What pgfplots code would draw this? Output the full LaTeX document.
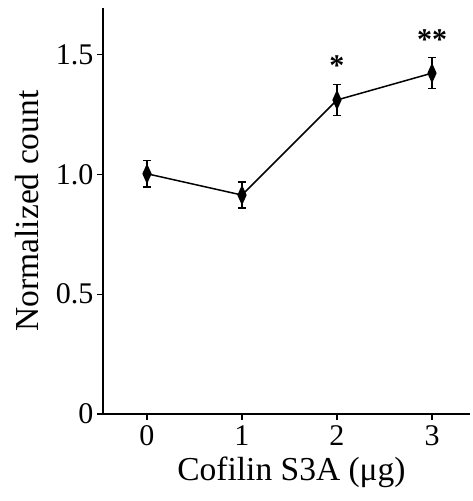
\documentclass[border=0pt]{standalone}
\usepackage{fontspec}
\setmainfont{Liberation Serif}
\usepackage{pgfplots}
\pgfplotsset{compat=1.18}

\newcommand{\tickfont}{\fontsize{30}{36}\selectfont}
\newcommand{\labfont}{\fontsize{33.5}{40}\selectfont}

\begin{document}
\begin{tikzpicture}
	\begin{axis}[
		scale only axis,
		width=367pt,
		height=406pt,
		axis x line*=bottom,
		axis y line*=left,
		axis line style={line width=1.6pt},
		xmin=-0.463, xmax=3.4,
		ymin=0, ymax=1.695,
		xtick={0,1,2,3},
		ytick={0,0.5,1,1.5},
		yticklabels={0,0.5,1.0,1.5},
		tick align=outside,
		major tick length=6pt,
		tick style={line width=1.4pt, black},
		/pgf/number format/assume math mode=true,
		tick label style={font=\tickfont},
		xticklabel style={yshift=-2pt},
		label style={font=\labfont},
		xlabel={Cofilin S3A (μg)},
		ylabel={Normalized count},
		xlabel style={xshift=5pt},
		xlabel shift=4pt,
		ylabel shift=10pt,
		clip=false,
	]
		% mean values with error bars
		\addplot[black, line width=1.5pt, mark=diamond*,
			mark size=8.5pt, mark options={xscale=0.6, solid},
			error bars/.cd, y dir=both, y explicit,
			error mark options={rotate=90, mark size=4pt, line width=1.5pt},
			error bar style={line width=1.5pt}]
			coordinates {
				(0,1.003) +- (0,0.055)
				(1,0.914) +- (0,0.055)
				(2,1.311) +- (0,0.065)
				(3,1.423) +- (0,0.065)
			};
		% significance stars
		\addplot[only marks, mark=none, nodes near coords,
			point meta=explicit symbolic,
			nodes near coords style={anchor=center, font=\tickfont\bfseries, inner sep=0pt}]
			coordinates {
				(2,1.455) [*]
				(3,1.565) [**]
			};
	\end{axis}
	\pgfresetboundingbox
	\path ([xshift=-103pt,yshift=8pt]current axis.north west) rectangle ([xshift=2pt,yshift=-87pt]current axis.south east);
\end{tikzpicture}
\end{document}
